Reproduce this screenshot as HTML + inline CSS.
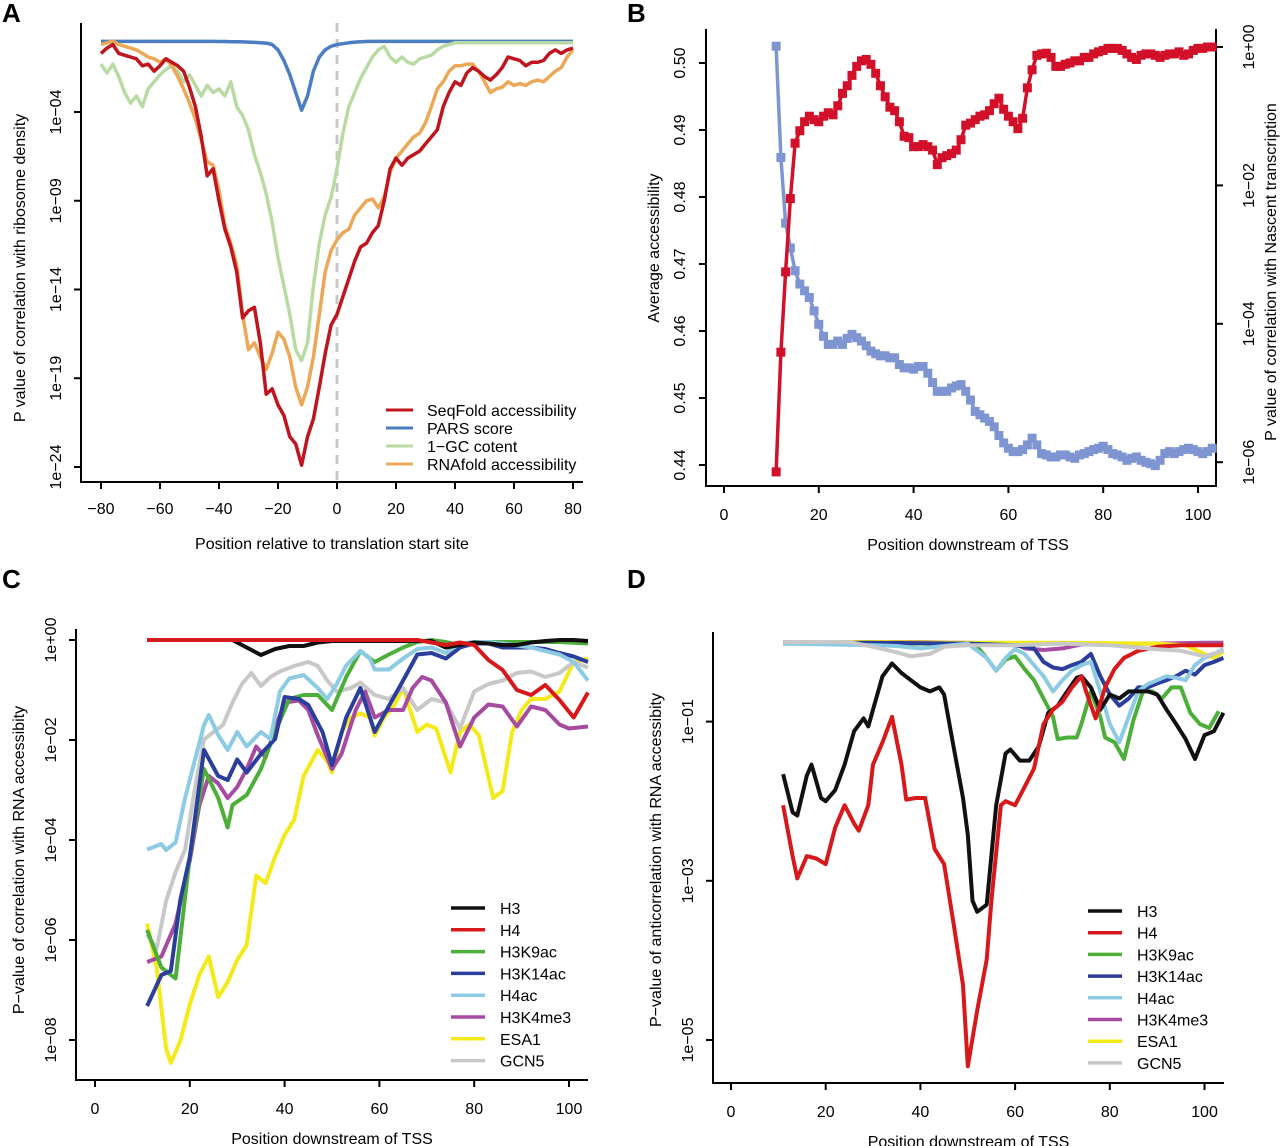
<!DOCTYPE html>
<html><head><meta charset="utf-8"><title>Accessibility figure</title>
<style>
html,body{margin:0;padding:0;background:#fff;}
svg{display:block;font-family:"Liberation Sans",Arial,sans-serif;}
</style></head>
<body>
<svg id="fig" width="1280" height="1146" viewBox="0 0 1280 1146" xmlns="http://www.w3.org/2000/svg"></svg>
<script>
// ---------- Panel A data (log10 p-values) ----------
const aPositions = [-80,-78,-76,-74,-72,-70,-68,-66,-64,-62,-60,-58,-56,-54,-52,-50,-48,-46,-44,-42,-40,-38,-36,-34,-32,-30,-28,-26,-24,-22,-20,-18,-16,-14,-12,-10,-8,-6,-4,-2,0,2,4,6,8,10,12,14,16,18,20,22,24,26,28,30,32,34,36,38,40,42,44,46,48,50,52,54,56,58,60,62,64,66,68,70,72,74,76,78,80];
const aSeqFold = [-0.7,-0.4,-0.2,-0.7,-0.8,-0.9,-1.0,-1.4,-1.3,-1.7,-1.4,-1.0,-1.2,-1.4,-1.7,-2.6,-3.7,-5.4,-7.6,-7.2,-9.0,-10.6,-11.6,-13,-15.6,-15.2,-15,-17,-19.9,-19.6,-20.5,-21.1,-22.3,-22.7,-23.9,-22.3,-21.3,-19.5,-17.6,-16,-15.4,-14.4,-13.4,-12.4,-11.6,-11.4,-10.8,-10.4,-9,-7.2,-6.6,-7.0,-6.6,-6.4,-6.2,-5.8,-5.4,-5.0,-3.7,-2.9,-2.3,-2.5,-1.8,-1.5,-1.7,-2.0,-2.2,-1.9,-1.5,-0.9,-1.0,-1.1,-1.4,-1.2,-1.2,-1.1,-0.7,-0.5,-0.7,-0.5,-0.4];
const aPARS = [-0.02,-0.02,-0.02,-0.02,-0.02,-0.02,-0.02,-0.02,-0.02,-0.02,-0.02,-0.02,-0.02,-0.02,-0.02,-0.02,-0.02,-0.02,-0.02,-0.02,-0.03,-0.03,-0.04,-0.04,-0.05,-0.06,-0.08,-0.1,-0.12,-0.2,-0.5,-1.1,-1.9,-2.9,-3.9,-3.1,-1.7,-0.9,-0.5,-0.3,-0.2,-0.15,-0.1,-0.06,-0.04,-0.03,-0.02,-0.02,-0.02,-0.02,-0.02,-0.02,-0.02,-0.02,-0.02,-0.02,-0.02,-0.02,-0.02,-0.02,-0.02,-0.02,-0.02,-0.02,-0.02,-0.02,-0.02,-0.02,-0.02,-0.02,-0.02,-0.02,-0.02,-0.02,-0.02,-0.02,-0.02,-0.02,-0.02,-0.02,-0.02];
const aGC = [-1.3,-1.8,-1.3,-2.0,-2.9,-3.5,-3.1,-3.7,-2.7,-2.3,-1.9,-1.6,-1.4,-1.7,-2.3,-1.9,-2.5,-3.1,-2.5,-2.9,-2.7,-3.1,-2.3,-3.7,-4.2,-5.0,-6.4,-7.4,-8.6,-10.2,-12.2,-13.8,-15.4,-17.4,-18.0,-17.0,-13.8,-11.4,-9.8,-8.8,-7.2,-5.2,-3.7,-2.9,-2.1,-1.5,-0.9,-0.5,-0.3,-0.9,-1.2,-0.9,-1.2,-1.3,-1.0,-0.9,-0.8,-0.5,-0.3,-0.2,-0.1,-0.1,-0.1,-0.1,-0.1,-0.1,-0.1,-0.1,-0.1,-0.1,-0.1,-0.1,-0.1,-0.1,-0.1,-0.1,-0.1,-0.1,-0.1,-0.1,-0.1];
const aRNAfold = [-0.2,-0.1,0,-0.2,-0.3,-0.4,-0.5,-0.7,-0.9,-1.0,-1.2,-1.0,-1.4,-2.0,-2.7,-3.5,-4.4,-5.6,-6.8,-7.0,-8.4,-10.4,-11.4,-12.6,-15.4,-17.4,-17.0,-17.8,-18.5,-17.6,-16.4,-16.8,-17.8,-19.5,-20.5,-19.5,-17.8,-15.4,-13.0,-11.8,-11.2,-10.8,-10.6,-9.8,-9.4,-9.0,-8.9,-9.4,-8.8,-7.4,-6.6,-6.2,-5.8,-5.4,-5.2,-4.6,-3.7,-2.7,-2.3,-1.7,-1.4,-1.4,-1.3,-1.3,-1.7,-2.3,-2.9,-2.7,-2.6,-2.3,-2.5,-2.4,-2.5,-2.3,-2.2,-2.3,-2.0,-1.7,-1.5,-0.9,-0.5];
const aXTicks = [-80,-60,-40,-20,0,20,40,60,80];
const aYTickExp = [-4,-9,-14,-19,-24];
const aYTickLabels = ["1e\u221204","1e\u221209","1e\u221214","1e\u221219","1e\u221224"];

// ---------- Panel B data ----------
const bPositions = [11,12,13,14,15,16,17,18,19,20,21,22,23,24,25,26,27,28,29,30,31,32,33,34,35,36,37,38,39,40,41,42,43,44,45,46,47,48,49,50,51,52,53,54,55,56,57,58,59,60,61,62,63,64,65,66,67,68,69,70,71,72,73,74,75,76,77,78,79,80,81,82,83,84,85,86,87,88,89,90,91,92,93,94,95,96,97,98,99,100,101,102,103];
const bAccessibility = [.5025,.4859,.4761,.4724,.4690,.4670,.4660,.4650,.4630,.4610,.4592,.4580,.4580,.4585,.4580,.4589,.4595,.4590,.4585,.4578,.4570,.4566,.4563,.4563,.4560,.4560,.4550,.4545,.4545,.4543,.4547,.4547,.4537,.4523,.4510,.4510,.4510,.4515,.4518,.4520,.4510,.4497,.4480,.4475,.4470,.4465,.4457,.4444,.4433,.4425,.4420,.4420,.4423,.4430,.4440,.4430,.4417,.4415,.4412,.4412,.4415,.4415,.4412,.4410,.4415,.4417,.4420,.4423,.4425,.4428,.4423,.4417,.4415,.4412,.4407,.4410,.4412,.4407,.4404,.4402,.4399,.4407,.4417,.4420,.4417,.4420,.4423,.4425,.4423,.4420,.4417,.4420,.4425];
const bNascentLogP = [-6.14,-4.41,-3.25,-2.19,-1.39,-1.21,-1.08,-1.0,-1.05,-1.08,-1.0,-0.95,-0.98,-0.85,-0.67,-0.56,-0.41,-0.28,-0.2,-0.18,-0.25,-0.38,-0.56,-0.72,-0.87,-0.92,-1.08,-1.29,-1.31,-1.44,-1.44,-1.41,-1.44,-1.49,-1.70,-1.60,-1.57,-1.54,-1.49,-1.34,-1.13,-1.10,-1.05,-1.0,-0.98,-0.92,-0.82,-0.74,-0.9,-1.0,-1.08,-1.18,-1.03,-0.59,-0.33,-0.12,-0.1,-0.09,-0.15,-0.28,-0.28,-0.25,-0.23,-0.2,-0.2,-0.15,-0.15,-0.1,-0.07,-0.05,-0.02,-0.02,-0.02,-0.05,-0.1,-0.15,-0.18,-0.12,-0.1,-0.1,-0.12,-0.15,-0.12,-0.1,-0.1,-0.07,-0.12,-0.1,-0.05,-0.02,-0.02,0,0];
const bXTicks = [0,20,40,60,80,100];
const bLeftTicks = [0.44,0.45,0.46,0.47,0.48,0.49,0.50];
const bRightTickExp = [0,-2,-4,-6];
const bRightTickLabels = ["1e+00","1e\u221202","1e\u221204","1e\u221206"];

// ---------- Panel C data (log10 p) ----------
const cH3X = [11,14,17,20,23,26,29,32,35,38,41,44,47,50,56,62,68,71,74,77,80,83,86,89,92,95,98,101,104];
const cH3Y = [0,0,0,0,0,0,0,-0.15,-0.3,-0.18,-0.12,-0.12,-0.05,-0.02,-0.02,-0.02,-0.02,-0.02,-0.15,-0.1,-0.05,-0.07,-0.1,-0.1,-0.05,-0.02,0,0,-0.02];
const cH4X = [11,20,30,40,50,60,68,71,74,77,80,83,86,89,92,95,98,101,104];
const cH4Y = [0,0,0,0,0,0,0,-0.05,-0.1,-0.05,-0.1,-0.4,-0.6,-1.0,-1.1,-0.9,-1.2,-1.55,-1.05];
const cH3K9acX = [11,14,17,20,23,26,28,29,32,35,38,41,44,47,50,53,56,59,62,65,68,71,74,77,80,86,92,98,104];
const cH3K9acY = [-5.8,-6.55,-6.77,-4.34,-2.58,-3.16,-3.75,-3.3,-3.1,-2.58,-1.84,-1.18,-1.1,-1.1,-1.4,-0.74,-0.22,-0.44,-0.29,-0.15,-0.04,0,-0.04,-0.11,-0.04,-0.04,-0.04,-0.04,-0.07];
const cH3K14acX = [11,14,16,18,20,23,26,28,30,32,35,38,40,43,45,48,50,53,56,59,62,65,68,71,74,77,80,83,86,89,92,95,98,101,104];
const cH3K14acY = [-7.32,-6.7,-6.62,-5.2,-4.34,-2.2,-2.72,-2.8,-2.39,-2.65,-2.28,-1.98,-1.14,-1.18,-1.3,-1.84,-2.5,-1.55,-0.96,-1.84,-1.32,-0.81,-0.29,-0.26,-0.37,-0.15,-0.07,-0.07,-0.15,-0.15,-0.15,-0.18,-0.26,-0.33,-0.44];
const cH4acX = [11,14,15,17,19,21,23,24,26,28,30,32,35,37,39,41,44,47,49,51,53,56,58,59,62,65,68,71,74,77,80,83,86,89,92,95,98,101,104];
const cH4acY = [-4.19,-4.08,-4.2,-4.05,-3.16,-2.43,-1.7,-1.5,-1.9,-2.2,-1.84,-2.13,-1.84,-1.98,-1.03,-0.77,-0.7,-0.96,-1.18,-0.88,-0.51,-0.22,-0.37,-0.59,-0.59,-0.37,-0.18,-0.15,-0.26,-0.07,-0.04,-0.04,-0.07,-0.11,-0.15,-0.22,-0.29,-0.44,-0.81];
const cH3K4me3X = [11,14,17,20,22,24,26,28,30,32,34,36,38,40,43,45,47,50,52,55,57,59,62,65,67,69,71,74,77,80,83,86,89,92,95,98,100,104];
const cH3K4me3Y = [-6.44,-6.33,-5.67,-4.41,-3.31,-2.72,-2.87,-3.16,-2.94,-2.58,-2.13,-2.35,-1.77,-1.25,-1.21,-1.4,-1.91,-2.58,-2.28,-1.4,-1.03,-1.55,-1.4,-1.4,-0.96,-0.74,-0.81,-1.25,-2.13,-1.55,-1.29,-1.33,-1.73,-1.33,-1.4,-1.69,-1.77,-1.73];
const cESA1X = [11,13,15,16,18,20,22,24,26,28,30,32,34,36,38,40,42,44,47,49,50,52,54,56,58,59,61,63,65,68,70,72,75,77,79,81,84,86,88,90,92,95,98,101,104];
const cESA1Y = [-5.67,-6.55,-8.17,-8.46,-8.02,-7.29,-6.7,-6.33,-7.14,-6.84,-6.4,-6.1,-4.71,-4.86,-4.34,-3.9,-3.6,-2.72,-2.2,-2.43,-2.65,-1.84,-1.55,-1.47,-1.55,-1.91,-1.55,-1.33,-0.96,-1.84,-1.69,-1.77,-2.65,-1.84,-1.69,-1.91,-3.16,-3.02,-1.84,-1.4,-1.18,-1.18,-1.03,-0.44,-0.37];
const cGCN5X = [11,13,15,17,19,21,23,25,27,29,31,33,35,37,39,42,45,47,49,51,54,56,59,62,65,68,71,74,77,80,83,86,89,92,95,98,101,104];
const cGCN5Y = [-5.89,-6.18,-5.22,-4.64,-4.19,-3.02,-1.99,-1.84,-1.7,-1.25,-0.88,-0.66,-0.92,-0.74,-0.63,-0.52,-0.44,-0.52,-0.81,-1.03,-0.96,-0.85,-1.1,-1.18,-0.96,-1.4,-1.18,-1.25,-1.77,-1.03,-0.88,-0.81,-0.66,-0.63,-0.74,-0.66,-0.44,-0.55];
const cYTickExp = [0,-2,-4,-6,-8];
const cYTickLabels = ["1e+00","1e\u221202","1e\u221204","1e\u221206","1e\u221208"];

// ---------- Panel D data (log10 p) ----------
const dH3X = [11,13,14,16,17,19,20,22,24,26,28,29,30,32,34,36,38,40,42,44,45,47,49,50,51,52,54,56,58,59,61,63,65,67,69,71,73,74,76,78,80,82,84,86,88,90,92,94,96,98,100,102,104];
const dH3Y = [-1.66,-2.14,-2.18,-1.68,-1.54,-1.96,-2.0,-1.86,-1.54,-1.12,-0.96,-1.06,-0.85,-0.43,-0.27,-0.39,-0.48,-0.57,-0.62,-0.57,-0.66,-1.31,-1.96,-2.42,-3.25,-3.39,-3.3,-2.05,-1.4,-1.35,-1.49,-1.49,-1.31,-0.89,-0.8,-0.62,-0.45,-0.43,-0.57,-0.85,-0.66,-0.71,-0.62,-0.62,-0.62,-0.66,-0.85,-1.03,-1.22,-1.47,-1.17,-1.12,-0.89];
const dH4X = [11,13,14,16,18,20,22,24,26,27,29,30,32,34,36,37,39,41,43,45,47,49,50,52,54,55,57,58,60,62,64,66,68,70,72,74,75,77,79,81,83,86,90,95,100,104];
const dH4Y = [-2.05,-2.69,-2.97,-2.69,-2.72,-2.79,-2.33,-2.05,-2.28,-2.37,-2.05,-1.54,-1.26,-0.94,-1.54,-1.98,-1.96,-1.96,-2.6,-2.79,-3.53,-4.31,-5.33,-4.63,-3.99,-3.25,-2.05,-2.0,-2.05,-1.82,-1.59,-1.03,-0.85,-0.75,-0.57,-0.43,-0.62,-0.96,-0.57,-0.34,-0.2,-0.11,-0.06,-0.04,-0.04,-0.04];
const dH3K9acX = [11,30,50,52,54,56,58,60,62,64,66,68,69,71,73,74,76,78,79,81,83,85,87,89,91,93,95,97,99,101,103];
const dH3K9acY = [-0.02,-0.02,-0.02,-0.06,-0.2,-0.36,-0.22,-0.18,-0.34,-0.48,-0.71,-0.94,-1.22,-1.2,-1.2,-1.03,-0.62,-0.94,-1.2,-1.26,-1.47,-0.98,-0.62,-0.62,-0.71,-0.57,-0.57,-0.89,-1.03,-1.08,-0.87];
const dH3K14acX = [11,30,50,60,64,66,68,70,72,74,76,78,80,82,84,86,88,90,92,94,96,98,100,102,104];
const dH3K14acY = [-0.01,-0.01,-0.02,-0.04,-0.08,-0.25,-0.32,-0.34,-0.29,-0.25,-0.15,-0.43,-0.66,-0.8,-0.71,-0.57,-0.57,-0.52,-0.48,-0.43,-0.36,-0.41,-0.29,-0.25,-0.2];
const dH4acX = [11,20,30,35,40,45,50,54,56,58,60,62,64,66,68,70,72,74,76,78,80,82,84,86,88,90,92,94,96,98,100,102,104];
const dH4acY = [-0.02,-0.03,-0.04,-0.05,-0.08,-0.05,-0.02,-0.2,-0.36,-0.2,-0.09,-0.15,-0.29,-0.43,-0.62,-0.48,-0.36,-0.29,-0.25,-0.62,-1.03,-1.26,-0.94,-0.62,-0.53,-0.48,-0.43,-0.45,-0.48,-0.29,-0.2,-0.15,-0.09];
const dH3K4me3X = [11,40,60,62,66,70,74,80,90,100,104];
const dH3K4me3Y = [0,0,-0.02,-0.08,-0.1,-0.08,-0.03,-0.02,-0.02,-0.01,-0.01];
const dESA1X = [11,30,50,70,90,96,100,102,104];
const dESA1Y = [0,0,-0.01,-0.01,-0.02,-0.04,-0.15,-0.2,-0.12];
const dGCN5X = [11,25,30,35,38,42,45,50,60,70,80,90,95,100,104];
const dGCN5Y = [0,0,-0.06,-0.13,-0.18,-0.15,-0.06,-0.04,-0.04,-0.02,-0.04,-0.09,-0.11,-0.18,-0.11];
const dYTickExp = [-1,-3,-5];
const dYTickLabels = ["1e\u221201","1e\u221203","1e\u221205"];
const cdXTicks = [0,20,40,60,80,100];
const histoneNames = ["H3","H4","H3K9ac","H3K14ac","H4ac","H3K4me3","ESA1","GCN5"];
const histoneColors = ["#111111","#d7191c","#4daf3a","#2c3e9c","#8dcbe4","#a64ca0","#f4ea1a","#c8c8c8"];

// ---------- drawing helpers ----------
const NS = "http://www.w3.org/2000/svg";
const svg = document.getElementById("fig");
function mk(tag, attrs, parent) {
  const e = document.createElementNS(NS, tag);
  for (const k in attrs) e.setAttribute(k, attrs[k]);
  (parent || svg).appendChild(e);
  return e;
}
function txt(str, x, y, size, parent, anchor, rot, weight) {
  const t = mk("text", {x: x, y: y, "font-size": size, "text-anchor": anchor || "middle", fill: "#000"}, parent);
  if (rot) t.setAttribute("transform", "rotate(" + rot + " " + x + " " + y + ")");
  if (weight) t.setAttribute("font-weight", weight);
  t.textContent = str;
  return t;
}
function pathFrom(xs, ys, sx, sy) {
  let d = "";
  for (let i = 0; i < xs.length; i++) d += (i ? "L" : "M") + sx(xs[i]).toFixed(1) + " " + sy(ys[i]).toFixed(1);
  return d;
}

// ================= Panel A =================
const gA = mk("g", {});


const axA = v => 337 + v * 2.95;
const ayA = l => 41 - l * 17.75;
const labA = txt("A", 2, 22, 26, gA, "start", 0, "bold");


const axisA = mk("path", {d: "M81 23 L81 482 L583 482", fill: "none", stroke: "#000", "stroke-width": 2}, gA);


aXTicks.forEach(v => {
  const tk = mk("line", {x1: axA(v), y1: 482, x2: axA(v), y2: 489, stroke: "#000", "stroke-width": 2}, gA);
  
  
  const tl = txt(String(v).replace("-", "\u2212"), axA(v), 514, 16, gA);
  
  
});
aYTickExp.forEach((e, i) => {
  const tk = mk("line", {x1: 74, y1: ayA(e), x2: 81, y2: ayA(e), stroke: "#000", "stroke-width": 2}, gA);
  
  
  const tl = txt(aYTickLabels[i], 61, ayA(e), 16, gA, "middle", -90);
  
  
});
const xtA = txt("Position relative to translation start site", 332, 549, 16, gA);


const ytA = txt("P value of correlation with ribosome density", 25, 268, 16, gA, "middle", -90);


const dashA = mk("line", {x1: axA(0), y1: 23, x2: axA(0), y2: 482, stroke: "#c8c8c8", "stroke-width": 3, "stroke-dasharray": "9 7"}, gA);


const aSeries = [aPARS, aGC, aRNAfold, aSeqFold];
const aColors = ["#4a7dc2", "#b9daa3", "#eca857", "#c0141f"];
const aNames = ["pars-score-line", "gc-content-line", "rnafold-line", "seqfold-line"];
aSeries.forEach((s, i) => {
  const p = mk("path", {d: pathFrom(aPositions, s, axA, ayA), fill: "none", stroke: aColors[i], "stroke-width": 3.5, "stroke-linejoin": "round"}, gA);
  
  
});
const aLegNames = ["SeqFold accessibility", "PARS score", "1\u2212GC cotent", "RNAfold accessibility"];
const aLegColors = ["#c0141f", "#4a7dc2", "#b9daa3", "#eca857"];
aLegNames.forEach((n, i) => {
  const y = 410 + i * 18;
  const l = mk("line", {x1: 386, y1: y, x2: 413, y2: y, stroke: aLegColors[i], "stroke-width": 3}, gA);
  
  
  const t = txt(n, 427, y + 6, 16, gA, "start");
  
  
});

// ================= Panel B =================
const gB = mk("g", {});


const axB = v => 724 + v * 4.74;
const ayBL = v => 63 + (0.50 - v) * 6700;
const ayBR = l => 47 - l * 69.2;
const labB = txt("B", 627, 22, 26, gB, "start", 0, "bold");


const axisB = mk("path", {d: "M706 29 L706 486 L1216 486 L1216 29", fill: "none", stroke: "#000", "stroke-width": 2}, gB);


bXTicks.forEach(v => {
  const tk = mk("line", {x1: axB(v), y1: 486, x2: axB(v), y2: 493, stroke: "#000", "stroke-width": 2}, gB);
  
  
  const tl = txt(String(v), axB(v), 520, 16, gB);
  
  
});
bLeftTicks.forEach(v => {
  const tk = mk("line", {x1: 699, y1: ayBL(v), x2: 706, y2: ayBL(v), stroke: "#000", "stroke-width": 2}, gB);
  
  
  const tl = txt(v.toFixed(2), 685, ayBL(v), 16, gB, "middle", -90);
  
  
});
bRightTickExp.forEach((e, i) => {
  const tk = mk("line", {x1: 1216, y1: ayBR(e), x2: 1223, y2: ayBR(e), stroke: "#000", "stroke-width": 2}, gB);
  
  
  const tl = txt(bRightTickLabels[i], 1254, ayBR(e), 16, gB, "middle", -90);
  
  
});
const xtB = txt("Position downstream of TSS", 968, 550, 16, gB);


const ytB = txt("Average accessibility", 659, 248, 16, gB, "middle", -90);


const ytB2 = txt("P value of correlation with Nascent transcription", 1276, 272, 16, gB, "middle", -90);


const bBlue = mk("path", {d: pathFrom(bPositions, bAccessibility, axB, ayBL), fill: "none", stroke: "#7f95d2", "stroke-width": 3.5}, gB);


bPositions.forEach((x, i) => {
  const r = mk("rect", {x: axB(x) - 4.5, y: ayBL(bAccessibility[i]) - 4.5, width: 9, height: 9, fill: "#7f95d2"}, gB);
  
  
});
const bRed = mk("path", {d: pathFrom(bPositions, bNascentLogP, axB, ayBR), fill: "none", stroke: "#d2102a", "stroke-width": 3.5}, gB);


bPositions.forEach((x, i) => {
  const r = mk("rect", {x: axB(x) - 4.5, y: ayBR(bNascentLogP[i]) - 4.5, width: 9, height: 9, fill: "#d2102a"}, gB);
  
  
});

// ================= Panels C & D =================
function histPanel(g, cfg) {
  const ax = cfg.ax, ay = cfg.ay;
  const axis = mk("path", {d: "M" + cfg.left + " " + cfg.top + " L" + cfg.left + " " + cfg.bottom + " L" + cfg.right + " " + cfg.bottom, fill: "none", stroke: "#000", "stroke-width": 2}, g);
  
  
  cdXTicks.forEach(v => {
    const tk = mk("line", {x1: ax(v), y1: cfg.bottom, x2: ax(v), y2: cfg.bottom + 7, stroke: "#000", "stroke-width": 2}, g);
    
    
    const tl = txt(String(v), ax(v), cfg.bottom + 34, 16, g);
    
    
  });
  cfg.yExp.forEach((e, i) => {
    const tk = mk("line", {x1: cfg.left - 7, y1: ay(e), x2: cfg.left, y2: ay(e), stroke: "#000", "stroke-width": 2}, g);
    
    
    const tl = txt(cfg.yLabels[i], cfg.left - 20, ay(e), 16, g, "middle", -90);
    
    
  });
  const xt = txt("Position downstream of TSS", (cfg.left + cfg.right) / 2, cfg.bottom + 64, 16, g);
  
  
  const yt = txt(cfg.ytitle, cfg.left - 52, 860, 16, g, "middle", -90);
  
  
  cfg.drawOrder.forEach(i => {
    const p = mk("path", {d: pathFrom(cfg.xs[i], cfg.ys[i], ax, ay), fill: "none", stroke: histoneColors[i], "stroke-width": 4, "stroke-linejoin": "round"}, g);
    
    
  });
  histoneNames.forEach((n, i) => {
    const y = cfg.legY + i * cfg.legDy;
    const l = mk("line", {x1: cfg.legX, y1: y, x2: cfg.legX + 34, y2: y, stroke: histoneColors[i], "stroke-width": 3.5}, g);
    
    
    const t = txt(n, cfg.legX + 49, y + 6, 16, g, "start");
    
    
  });
}
const gC = mk("g", {});


const labC = txt("C", 2, 588, 26, gC, "start", 0, "bold");


histPanel(gC, {
  ax: v => 95 + v * 4.74, ay: l => 640 - l * 50,
  left: 76, right: 588, top: 629, bottom: 1080,
  yExp: cYTickExp, yLabels: cYTickLabels,
  ytitle: "P\u2212value of correlation with RNA accessibity",
  xs: [cH3X, cH4X, cH3K9acX, cH3K14acX, cH4acX, cH3K4me3X, cESA1X, cGCN5X],
  ys: [cH3Y, cH4Y, cH3K9acY, cH3K14acY, cH4acY, cH3K4me3Y, cESA1Y, cGCN5Y],
  drawOrder: [6, 7, 5, 2, 3, 4, 0, 1],
  legX: 451, legY: 908, legDy: 21.8
});
const gD = mk("g", {});


const labD = txt("D", 627, 588, 26, gD, "start", 0, "bold");


histPanel(gD, {
  ax: v => 731 + v * 4.735, ay: l => 642 - l * 79.6,
  left: 713, right: 1224, top: 632, bottom: 1083,
  yExp: dYTickExp, yLabels: dYTickLabels,
  ytitle: "P\u2212value of anticorrelation with RNA accessibity",
  xs: [dH3X, dH4X, dH3K9acX, dH3K14acX, dH4acX, dH3K4me3X, dESA1X, dGCN5X],
  ys: [dH3Y, dH4Y, dH3K9acY, dH3K14acY, dH4acY, dH3K4me3Y, dESA1Y, dGCN5Y],
  drawOrder: [5, 6, 2, 3, 4, 0, 1, 7],
  legX: 1088, legY: 911, legDy: 21.7
});
</script>
</body></html>
